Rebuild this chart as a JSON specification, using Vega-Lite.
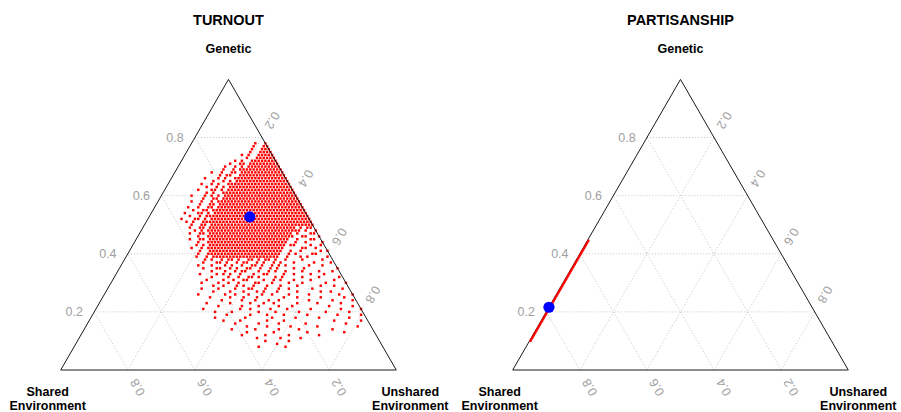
{
"$schema":"https://vega.github.io/schema/vega-lite/v6.json",
"padding":0,"spacing":0,"background":"white",
"config":{"view":{"stroke":null},"text":{"font":"Liberation Sans"}},
"datasets":{
"grid":[{"g1":20,"s1":80,"g2":20,"s2":0},{"g1":40,"s1":60,"g2":40,"s2":0},{"g1":60,"s1":40,"g2":60,"s2":0},{"g1":80,"s1":20,"g2":80,"s2":0},
{"g1":0,"s1":20,"g2":80,"s2":20},{"g1":0,"s1":40,"g2":60,"s2":40},{"g1":0,"s1":60,"g2":40,"s2":60},{"g1":0,"s1":80,"g2":20,"s2":80},
{"g1":0,"s1":80,"g2":80,"s2":0},{"g1":0,"s1":60,"g2":60,"s2":0},{"g1":0,"s1":40,"g2":40,"s2":0},{"g1":0,"s1":20,"g2":20,"s2":0}],
"edges":[{"g1":0,"s1":100,"g2":100,"s2":0},{"g1":100,"s1":0,"g2":0,"s2":0},{"g1":0,"s1":100,"g2":0,"s2":0}],
"ticks":[{"k":"L","g":20,"s":80,"t":"0.2"},{"k":"L","g":40,"s":60,"t":"0.4"},{"k":"L","g":60,"s":40,"t":"0.6"},{"k":"L","g":80,"s":20,"t":"0.8"},
{"k":"B","g":0,"s":20,"t":"0.2"},{"k":"B","g":0,"s":40,"t":"0.4"},{"k":"B","g":0,"s":60,"t":"0.6"},{"k":"B","g":0,"s":80,"t":"0.8"},
{"k":"R","g":80,"s":0,"t":"0.2"},{"k":"R","g":60,"s":0,"t":"0.4"},{"k":"R","g":40,"s":0,"t":"0.6"},{"k":"R","g":20,"s":0,"t":"0.8"}],
"vlabels":[{"k":"S","g":0,"s":100,"t":"Shared\nEnvironment"},{"k":"U","g":0,"s":0,"t":"Unshared\nEnvironment"}],
"apex":[{"g":100,"s":0,"t":"Genetic"}],
"turnout":[
{"g":78,"s":0},{"g":78,"s":3},
{"g":77,"s":0},{"g":77,"s":1},{"g":77,"s":4},
{"g":76,"s":0},{"g":76,"s":1},{"g":76,"s":2},{"g":76,"s":5},
{"g":75,"s":0},{"g":75,"s":1},{"g":75,"s":2},{"g":75,"s":3},{"g":75,"s":6},
{"g":74,"s":0},{"g":74,"s":1},{"g":74,"s":2},{"g":74,"s":3},{"g":74,"s":4},{"g":74,"s":7},{"g":74,"s":9},
{"g":73,"s":0},{"g":73,"s":1},{"g":73,"s":2},{"g":73,"s":3},{"g":73,"s":4},{"g":73,"s":5},{"g":73,"s":8},
{"g":72,"s":0},{"g":72,"s":1},{"g":72,"s":2},{"g":72,"s":3},{"g":72,"s":4},{"g":72,"s":5},{"g":72,"s":6},{"g":72,"s":7},{"g":72,"s":10},{"g":72,"s":12},
{"g":71,"s":0},{"g":71,"s":1},{"g":71,"s":2},{"g":71,"s":3},{"g":71,"s":4},{"g":71,"s":5},{"g":71,"s":6},{"g":71,"s":7},{"g":71,"s":8},{"g":71,"s":10},{"g":71,"s":11},{"g":71,"s":14},
{"g":70,"s":0},{"g":70,"s":1},{"g":70,"s":2},{"g":70,"s":3},{"g":70,"s":4},{"g":70,"s":5},{"g":70,"s":6},{"g":70,"s":7},{"g":70,"s":8},{"g":70,"s":9},{"g":70,"s":11},{"g":70,"s":13},{"g":70,"s":16},
{"g":69,"s":0},{"g":69,"s":1},{"g":69,"s":2},{"g":69,"s":3},{"g":69,"s":4},{"g":69,"s":5},{"g":69,"s":6},{"g":69,"s":7},{"g":69,"s":8},{"g":69,"s":9},{"g":69,"s":10},{"g":69,"s":11},{"g":69,"s":12},{"g":69,"s":14},{"g":69,"s":17},
{"g":68,"s":0},{"g":68,"s":1},{"g":68,"s":2},{"g":68,"s":3},{"g":68,"s":4},{"g":68,"s":5},{"g":68,"s":6},{"g":68,"s":7},{"g":68,"s":8},{"g":68,"s":9},{"g":68,"s":10},{"g":68,"s":11},{"g":68,"s":12},{"g":68,"s":14},{"g":68,"s":15},{"g":68,"s":18},{"g":68,"s":21},
{"g":67,"s":0},{"g":67,"s":1},{"g":67,"s":2},{"g":67,"s":3},{"g":67,"s":4},{"g":67,"s":5},{"g":67,"s":6},{"g":67,"s":7},{"g":67,"s":8},{"g":67,"s":9},{"g":67,"s":10},{"g":67,"s":11},{"g":67,"s":12},{"g":67,"s":13},{"g":67,"s":16},{"g":67,"s":17},{"g":67,"s":19},
{"g":66,"s":0},{"g":66,"s":1},{"g":66,"s":2},{"g":66,"s":3},{"g":66,"s":4},{"g":66,"s":5},{"g":66,"s":6},{"g":66,"s":7},{"g":66,"s":8},{"g":66,"s":9},{"g":66,"s":10},{"g":66,"s":11},{"g":66,"s":12},{"g":66,"s":13},{"g":66,"s":14},{"g":66,"s":15},{"g":66,"s":18},{"g":66,"s":20},{"g":66,"s":24},
{"g":65,"s":0},{"g":65,"s":1},{"g":65,"s":2},{"g":65,"s":3},{"g":65,"s":4},{"g":65,"s":5},{"g":65,"s":6},{"g":65,"s":7},{"g":65,"s":8},{"g":65,"s":9},{"g":65,"s":10},{"g":65,"s":11},{"g":65,"s":12},{"g":65,"s":13},{"g":65,"s":14},{"g":65,"s":15},{"g":65,"s":17},{"g":65,"s":19},{"g":65,"s":22},
{"g":64,"s":0},{"g":64,"s":1},{"g":64,"s":2},{"g":64,"s":3},{"g":64,"s":4},{"g":64,"s":5},{"g":64,"s":6},{"g":64,"s":7},{"g":64,"s":8},{"g":64,"s":9},{"g":64,"s":10},{"g":64,"s":11},{"g":64,"s":12},{"g":64,"s":13},{"g":64,"s":14},{"g":64,"s":15},{"g":64,"s":16},{"g":64,"s":17},{"g":64,"s":18},{"g":64,"s":21},{"g":64,"s":23},{"g":64,"s":26},
{"g":63,"s":0},{"g":63,"s":1},{"g":63,"s":2},{"g":63,"s":3},{"g":63,"s":4},{"g":63,"s":5},{"g":63,"s":6},{"g":63,"s":7},{"g":63,"s":8},{"g":63,"s":9},{"g":63,"s":10},{"g":63,"s":11},{"g":63,"s":12},{"g":63,"s":13},{"g":63,"s":14},{"g":63,"s":15},{"g":63,"s":16},{"g":63,"s":17},{"g":63,"s":18},{"g":63,"s":20},{"g":63,"s":22},{"g":63,"s":25},
{"g":62,"s":0},{"g":62,"s":1},{"g":62,"s":2},{"g":62,"s":3},{"g":62,"s":4},{"g":62,"s":5},{"g":62,"s":6},{"g":62,"s":7},{"g":62,"s":8},{"g":62,"s":9},{"g":62,"s":10},{"g":62,"s":11},{"g":62,"s":12},{"g":62,"s":13},{"g":62,"s":14},{"g":62,"s":15},{"g":62,"s":16},{"g":62,"s":17},{"g":62,"s":18},{"g":62,"s":19},{"g":62,"s":21},{"g":62,"s":23},{"g":62,"s":24},{"g":62,"s":28},
{"g":61,"s":0},{"g":61,"s":1},{"g":61,"s":2},{"g":61,"s":3},{"g":61,"s":4},{"g":61,"s":5},{"g":61,"s":6},{"g":61,"s":7},{"g":61,"s":8},{"g":61,"s":9},{"g":61,"s":10},{"g":61,"s":11},{"g":61,"s":12},{"g":61,"s":13},{"g":61,"s":14},{"g":61,"s":15},{"g":61,"s":16},{"g":61,"s":17},{"g":61,"s":18},{"g":61,"s":19},{"g":61,"s":20},{"g":61,"s":21},{"g":61,"s":24},{"g":61,"s":26},
{"g":60,"s":0},{"g":60,"s":1},{"g":60,"s":2},{"g":60,"s":3},{"g":60,"s":4},{"g":60,"s":5},{"g":60,"s":6},{"g":60,"s":7},{"g":60,"s":8},{"g":60,"s":9},{"g":60,"s":10},{"g":60,"s":11},{"g":60,"s":12},{"g":60,"s":13},{"g":60,"s":14},{"g":60,"s":15},{"g":60,"s":16},{"g":60,"s":17},{"g":60,"s":18},{"g":60,"s":19},{"g":60,"s":20},{"g":60,"s":21},{"g":60,"s":23},{"g":60,"s":25},{"g":60,"s":27},{"g":60,"s":31},
{"g":59,"s":0},{"g":59,"s":1},{"g":59,"s":2},{"g":59,"s":3},{"g":59,"s":4},{"g":59,"s":5},{"g":59,"s":6},{"g":59,"s":7},{"g":59,"s":8},{"g":59,"s":9},{"g":59,"s":10},{"g":59,"s":11},{"g":59,"s":12},{"g":59,"s":13},{"g":59,"s":14},{"g":59,"s":15},{"g":59,"s":16},{"g":59,"s":17},{"g":59,"s":18},{"g":59,"s":19},{"g":59,"s":20},{"g":59,"s":21},{"g":59,"s":22},{"g":59,"s":24},{"g":59,"s":25},{"g":59,"s":28},
{"g":58,"s":0},{"g":58,"s":1},{"g":58,"s":2},{"g":58,"s":3},{"g":58,"s":4},{"g":58,"s":5},{"g":58,"s":6},{"g":58,"s":7},{"g":58,"s":8},{"g":58,"s":9},{"g":58,"s":10},{"g":58,"s":11},{"g":58,"s":12},{"g":58,"s":13},{"g":58,"s":14},{"g":58,"s":15},{"g":58,"s":16},{"g":58,"s":17},{"g":58,"s":18},{"g":58,"s":19},{"g":58,"s":20},{"g":58,"s":21},{"g":58,"s":22},{"g":58,"s":23},{"g":58,"s":24},{"g":58,"s":26},{"g":58,"s":29},{"g":58,"s":32},
{"g":57,"s":0},{"g":57,"s":1},{"g":57,"s":2},{"g":57,"s":3},{"g":57,"s":4},{"g":57,"s":5},{"g":57,"s":6},{"g":57,"s":7},{"g":57,"s":8},{"g":57,"s":9},{"g":57,"s":10},{"g":57,"s":11},{"g":57,"s":12},{"g":57,"s":13},{"g":57,"s":14},{"g":57,"s":15},{"g":57,"s":16},{"g":57,"s":17},{"g":57,"s":18},{"g":57,"s":19},{"g":57,"s":20},{"g":57,"s":21},{"g":57,"s":22},{"g":57,"s":23},{"g":57,"s":24},{"g":57,"s":26},{"g":57,"s":27},{"g":57,"s":30},
{"g":56,"s":0},{"g":56,"s":1},{"g":56,"s":2},{"g":56,"s":3},{"g":56,"s":4},{"g":56,"s":5},{"g":56,"s":6},{"g":56,"s":7},{"g":56,"s":8},{"g":56,"s":9},{"g":56,"s":10},{"g":56,"s":11},{"g":56,"s":12},{"g":56,"s":13},{"g":56,"s":14},{"g":56,"s":15},{"g":56,"s":16},{"g":56,"s":17},{"g":56,"s":18},{"g":56,"s":19},{"g":56,"s":20},{"g":56,"s":21},{"g":56,"s":22},{"g":56,"s":23},{"g":56,"s":24},{"g":56,"s":25},{"g":56,"s":27},{"g":56,"s":28},{"g":56,"s":31},{"g":56,"s":34},
{"g":55,"s":0},{"g":55,"s":1},{"g":55,"s":2},{"g":55,"s":3},{"g":55,"s":4},{"g":55,"s":5},{"g":55,"s":6},{"g":55,"s":7},{"g":55,"s":8},{"g":55,"s":9},{"g":55,"s":10},{"g":55,"s":11},{"g":55,"s":12},{"g":55,"s":13},{"g":55,"s":14},{"g":55,"s":15},{"g":55,"s":16},{"g":55,"s":17},{"g":55,"s":18},{"g":55,"s":19},{"g":55,"s":20},{"g":55,"s":21},{"g":55,"s":22},{"g":55,"s":23},{"g":55,"s":24},{"g":55,"s":25},{"g":55,"s":26},{"g":55,"s":27},{"g":55,"s":29},{"g":55,"s":30},{"g":55,"s":33},
{"g":54,"s":0},{"g":54,"s":1},{"g":54,"s":2},{"g":54,"s":3},{"g":54,"s":4},{"g":54,"s":5},{"g":54,"s":6},{"g":54,"s":7},{"g":54,"s":8},{"g":54,"s":9},{"g":54,"s":10},{"g":54,"s":11},{"g":54,"s":12},{"g":54,"s":13},{"g":54,"s":14},{"g":54,"s":15},{"g":54,"s":16},{"g":54,"s":17},{"g":54,"s":18},{"g":54,"s":19},{"g":54,"s":20},{"g":54,"s":21},{"g":54,"s":22},{"g":54,"s":23},{"g":54,"s":24},{"g":54,"s":25},{"g":54,"s":26},{"g":54,"s":27},{"g":54,"s":29},{"g":54,"s":31},{"g":54,"s":32},{"g":54,"s":36},
{"g":53,"s":0},{"g":53,"s":1},{"g":53,"s":2},{"g":53,"s":3},{"g":53,"s":4},{"g":53,"s":5},{"g":53,"s":6},{"g":53,"s":7},{"g":53,"s":8},{"g":53,"s":9},{"g":53,"s":10},{"g":53,"s":11},{"g":53,"s":12},{"g":53,"s":13},{"g":53,"s":14},{"g":53,"s":15},{"g":53,"s":16},{"g":53,"s":17},{"g":53,"s":18},{"g":53,"s":19},{"g":53,"s":20},{"g":53,"s":21},{"g":53,"s":22},{"g":53,"s":23},{"g":53,"s":24},{"g":53,"s":25},{"g":53,"s":26},{"g":53,"s":27},{"g":53,"s":28},{"g":53,"s":29},{"g":53,"s":30},{"g":53,"s":32},{"g":53,"s":35},
{"g":52,"s":0},{"g":52,"s":1},{"g":52,"s":2},{"g":52,"s":3},{"g":52,"s":4},{"g":52,"s":5},{"g":52,"s":6},{"g":52,"s":7},{"g":52,"s":8},{"g":52,"s":9},{"g":52,"s":10},{"g":52,"s":11},{"g":52,"s":12},{"g":52,"s":13},{"g":52,"s":14},{"g":52,"s":15},{"g":52,"s":16},{"g":52,"s":17},{"g":52,"s":18},{"g":52,"s":19},{"g":52,"s":20},{"g":52,"s":21},{"g":52,"s":22},{"g":52,"s":23},{"g":52,"s":24},{"g":52,"s":25},{"g":52,"s":26},{"g":52,"s":27},{"g":52,"s":28},{"g":52,"s":29},{"g":52,"s":31},{"g":52,"s":33},{"g":52,"s":34},{"g":52,"s":38},
{"g":51,"s":0},{"g":51,"s":1},{"g":51,"s":2},{"g":51,"s":3},{"g":51,"s":4},{"g":51,"s":5},{"g":51,"s":6},{"g":51,"s":7},{"g":51,"s":8},{"g":51,"s":9},{"g":51,"s":10},{"g":51,"s":11},{"g":51,"s":12},{"g":51,"s":13},{"g":51,"s":14},{"g":51,"s":15},{"g":51,"s":16},{"g":51,"s":17},{"g":51,"s":18},{"g":51,"s":19},{"g":51,"s":20},{"g":51,"s":21},{"g":51,"s":22},{"g":51,"s":23},{"g":51,"s":24},{"g":51,"s":25},{"g":51,"s":26},{"g":51,"s":27},{"g":51,"s":28},{"g":51,"s":29},{"g":51,"s":30},{"g":51,"s":31},{"g":51,"s":32},{"g":51,"s":35},{"g":51,"s":37},
{"g":50,"s":0},{"g":50,"s":1},{"g":50,"s":2},{"g":50,"s":3},{"g":50,"s":4},{"g":50,"s":5},{"g":50,"s":6},{"g":50,"s":7},{"g":50,"s":8},{"g":50,"s":9},{"g":50,"s":10},{"g":50,"s":11},{"g":50,"s":12},{"g":50,"s":13},{"g":50,"s":14},{"g":50,"s":15},{"g":50,"s":16},{"g":50,"s":17},{"g":50,"s":18},{"g":50,"s":19},{"g":50,"s":20},{"g":50,"s":21},{"g":50,"s":22},{"g":50,"s":23},{"g":50,"s":24},{"g":50,"s":25},{"g":50,"s":26},{"g":50,"s":27},{"g":50,"s":28},{"g":50,"s":29},{"g":50,"s":30},{"g":50,"s":32},{"g":50,"s":33},{"g":50,"s":36},
{"g":49,"s":1},{"g":49,"s":2},{"g":49,"s":4},{"g":49,"s":6},{"g":49,"s":7},{"g":49,"s":8},{"g":49,"s":9},{"g":49,"s":10},{"g":49,"s":11},{"g":49,"s":12},{"g":49,"s":13},{"g":49,"s":14},{"g":49,"s":15},{"g":49,"s":16},{"g":49,"s":17},{"g":49,"s":18},{"g":49,"s":19},{"g":49,"s":20},{"g":49,"s":21},{"g":49,"s":22},{"g":49,"s":23},{"g":49,"s":24},{"g":49,"s":25},{"g":49,"s":26},{"g":49,"s":27},{"g":49,"s":28},{"g":49,"s":29},{"g":49,"s":30},{"g":49,"s":31},{"g":49,"s":33},{"g":49,"s":34},{"g":49,"s":37},
{"g":48,"s":0},{"g":48,"s":3},{"g":48,"s":5},{"g":48,"s":6},{"g":48,"s":7},{"g":48,"s":8},{"g":48,"s":9},{"g":48,"s":10},{"g":48,"s":11},{"g":48,"s":12},{"g":48,"s":13},{"g":48,"s":14},{"g":48,"s":15},{"g":48,"s":16},{"g":48,"s":17},{"g":48,"s":18},{"g":48,"s":19},{"g":48,"s":20},{"g":48,"s":21},{"g":48,"s":22},{"g":48,"s":23},{"g":48,"s":24},{"g":48,"s":25},{"g":48,"s":26},{"g":48,"s":27},{"g":48,"s":28},{"g":48,"s":29},{"g":48,"s":30},{"g":48,"s":31},{"g":48,"s":32},{"g":48,"s":34},{"g":48,"s":36},
{"g":47,"s":1},{"g":47,"s":2},{"g":47,"s":6},{"g":47,"s":8},{"g":47,"s":9},{"g":47,"s":10},{"g":47,"s":11},{"g":47,"s":12},{"g":47,"s":13},{"g":47,"s":14},{"g":47,"s":15},{"g":47,"s":16},{"g":47,"s":17},{"g":47,"s":18},{"g":47,"s":19},{"g":47,"s":20},{"g":47,"s":21},{"g":47,"s":22},{"g":47,"s":23},{"g":47,"s":24},{"g":47,"s":25},{"g":47,"s":26},{"g":47,"s":27},{"g":47,"s":28},{"g":47,"s":29},{"g":47,"s":30},{"g":47,"s":31},{"g":47,"s":32},{"g":47,"s":34},{"g":47,"s":35},{"g":47,"s":38},
{"g":46,"s":0},{"g":46,"s":4},{"g":46,"s":5},{"g":46,"s":8},{"g":46,"s":9},{"g":46,"s":10},{"g":46,"s":11},{"g":46,"s":12},{"g":46,"s":13},{"g":46,"s":14},{"g":46,"s":15},{"g":46,"s":16},{"g":46,"s":17},{"g":46,"s":18},{"g":46,"s":19},{"g":46,"s":20},{"g":46,"s":21},{"g":46,"s":22},{"g":46,"s":23},{"g":46,"s":24},{"g":46,"s":25},{"g":46,"s":26},{"g":46,"s":27},{"g":46,"s":28},{"g":46,"s":29},{"g":46,"s":30},{"g":46,"s":31},{"g":46,"s":32},{"g":46,"s":33},{"g":46,"s":36},
{"g":45,"s":2},{"g":45,"s":3},{"g":45,"s":7},{"g":45,"s":10},{"g":45,"s":11},{"g":45,"s":12},{"g":45,"s":13},{"g":45,"s":14},{"g":45,"s":15},{"g":45,"s":16},{"g":45,"s":17},{"g":45,"s":18},{"g":45,"s":19},{"g":45,"s":20},{"g":45,"s":21},{"g":45,"s":22},{"g":45,"s":23},{"g":45,"s":24},{"g":45,"s":25},{"g":45,"s":26},{"g":45,"s":27},{"g":45,"s":28},{"g":45,"s":29},{"g":45,"s":30},{"g":45,"s":31},{"g":45,"s":32},{"g":45,"s":33},{"g":45,"s":35},{"g":45,"s":36},{"g":45,"s":39},
{"g":44,"s":0},{"g":44,"s":5},{"g":44,"s":8},{"g":44,"s":11},{"g":44,"s":12},{"g":44,"s":13},{"g":44,"s":14},{"g":44,"s":15},{"g":44,"s":16},{"g":44,"s":17},{"g":44,"s":18},{"g":44,"s":19},{"g":44,"s":20},{"g":44,"s":21},{"g":44,"s":22},{"g":44,"s":23},{"g":44,"s":24},{"g":44,"s":25},{"g":44,"s":26},{"g":44,"s":27},{"g":44,"s":28},{"g":44,"s":29},{"g":44,"s":30},{"g":44,"s":31},{"g":44,"s":32},{"g":44,"s":33},{"g":44,"s":34},{"g":44,"s":37},
{"g":43,"s":1},{"g":43,"s":4},{"g":43,"s":9},{"g":43,"s":10},{"g":43,"s":12},{"g":43,"s":13},{"g":43,"s":14},{"g":43,"s":15},{"g":43,"s":16},{"g":43,"s":17},{"g":43,"s":18},{"g":43,"s":19},{"g":43,"s":20},{"g":43,"s":21},{"g":43,"s":22},{"g":43,"s":23},{"g":43,"s":24},{"g":43,"s":25},{"g":43,"s":26},{"g":43,"s":27},{"g":43,"s":28},{"g":43,"s":29},{"g":43,"s":30},{"g":43,"s":31},{"g":43,"s":32},{"g":43,"s":33},{"g":43,"s":34},{"g":43,"s":36},{"g":43,"s":38},
{"g":42,"s":3},{"g":42,"s":6},{"g":42,"s":7},{"g":42,"s":13},{"g":42,"s":14},{"g":42,"s":15},{"g":42,"s":16},{"g":42,"s":17},{"g":42,"s":18},{"g":42,"s":19},{"g":42,"s":20},{"g":42,"s":21},{"g":42,"s":22},{"g":42,"s":23},{"g":42,"s":24},{"g":42,"s":25},{"g":42,"s":26},{"g":42,"s":27},{"g":42,"s":28},{"g":42,"s":29},{"g":42,"s":30},{"g":42,"s":31},{"g":42,"s":32},{"g":42,"s":33},{"g":42,"s":34},{"g":42,"s":35},{"g":42,"s":37},{"g":42,"s":40},
{"g":41,"s":0},{"g":41,"s":2},{"g":41,"s":8},{"g":41,"s":11},{"g":41,"s":14},{"g":41,"s":15},{"g":41,"s":16},{"g":41,"s":17},{"g":41,"s":18},{"g":41,"s":19},{"g":41,"s":20},{"g":41,"s":21},{"g":41,"s":22},{"g":41,"s":23},{"g":41,"s":24},{"g":41,"s":25},{"g":41,"s":26},{"g":41,"s":27},{"g":41,"s":28},{"g":41,"s":29},{"g":41,"s":30},{"g":41,"s":31},{"g":41,"s":32},{"g":41,"s":33},{"g":41,"s":34},{"g":41,"s":35},{"g":41,"s":38},
{"g":40,"s":4},{"g":40,"s":5},{"g":40,"s":10},{"g":40,"s":12},{"g":40,"s":15},{"g":40,"s":16},{"g":40,"s":17},{"g":40,"s":18},{"g":40,"s":19},{"g":40,"s":20},{"g":40,"s":21},{"g":40,"s":22},{"g":40,"s":23},{"g":40,"s":24},{"g":40,"s":25},{"g":40,"s":26},{"g":40,"s":27},{"g":40,"s":28},{"g":40,"s":29},{"g":40,"s":30},{"g":40,"s":31},{"g":40,"s":32},{"g":40,"s":33},{"g":40,"s":34},{"g":40,"s":35},{"g":40,"s":36},{"g":40,"s":39},
{"g":39,"s":1},{"g":39,"s":7},{"g":39,"s":9},{"g":39,"s":13},{"g":39,"s":16},{"g":39,"s":17},{"g":39,"s":18},{"g":39,"s":19},{"g":39,"s":20},{"g":39,"s":21},{"g":39,"s":22},{"g":39,"s":23},{"g":39,"s":24},{"g":39,"s":25},{"g":39,"s":26},{"g":39,"s":27},{"g":39,"s":28},{"g":39,"s":29},{"g":39,"s":30},{"g":39,"s":31},{"g":39,"s":32},{"g":39,"s":33},{"g":39,"s":34},{"g":39,"s":35},{"g":39,"s":37},{"g":39,"s":40},
{"g":38,"s":3},{"g":38,"s":9},{"g":38,"s":14},{"g":38,"s":17},{"g":38,"s":19},{"g":38,"s":20},{"g":38,"s":22},{"g":38,"s":24},{"g":38,"s":25},{"g":38,"s":28},{"g":38,"s":30},{"g":38,"s":31},{"g":38,"s":33},{"g":38,"s":36},{"g":38,"s":38},
{"g":37,"s":1},{"g":37,"s":6},{"g":37,"s":12},{"g":37,"s":16},{"g":37,"s":18},{"g":37,"s":21},{"g":37,"s":23},{"g":37,"s":26},{"g":37,"s":27},{"g":37,"s":29},{"g":37,"s":32},{"g":37,"s":34},{"g":37,"s":35},{"g":37,"s":39},
{"g":36,"s":4},{"g":36,"s":8},{"g":36,"s":15},{"g":36,"s":17},{"g":36,"s":19},{"g":36,"s":22},{"g":36,"s":24},{"g":36,"s":25},{"g":36,"s":28},{"g":36,"s":31},{"g":36,"s":33},{"g":36,"s":37},{"g":36,"s":41},
{"g":35,"s":0},{"g":35,"s":10},{"g":35,"s":13},{"g":35,"s":18},{"g":35,"s":20},{"g":35,"s":23},{"g":35,"s":26},{"g":35,"s":27},{"g":35,"s":30},{"g":35,"s":32},{"g":35,"s":35},{"g":35,"s":36},{"g":35,"s":40},
{"g":34,"s":2},{"g":34,"s":6},{"g":34,"s":11},{"g":34,"s":16},{"g":34,"s":19},{"g":34,"s":21},{"g":34,"s":24},{"g":34,"s":28},{"g":34,"s":29},{"g":34,"s":31},{"g":34,"s":34},{"g":34,"s":38},
{"g":33,"s":5},{"g":33,"s":9},{"g":33,"s":14},{"g":33,"s":17},{"g":33,"s":22},{"g":33,"s":23},{"g":33,"s":26},{"g":33,"s":30},{"g":33,"s":33},{"g":33,"s":35},{"g":33,"s":37},{"g":33,"s":42},
{"g":32,"s":1},{"g":32,"s":7},{"g":32,"s":12},{"g":32,"s":18},{"g":32,"s":20},{"g":32,"s":25},{"g":32,"s":27},{"g":32,"s":28},{"g":32,"s":31},{"g":32,"s":34},{"g":32,"s":39},
{"g":31,"s":3},{"g":31,"s":10},{"g":31,"s":15},{"g":31,"s":19},{"g":31,"s":21},{"g":31,"s":24},{"g":31,"s":29},{"g":31,"s":30},{"g":31,"s":33},{"g":31,"s":36},{"g":31,"s":41},
{"g":30,"s":0},{"g":30,"s":6},{"g":30,"s":13},{"g":30,"s":17},{"g":30,"s":22},{"g":30,"s":26},{"g":30,"s":27},{"g":30,"s":32},{"g":30,"s":35},{"g":30,"s":38},{"g":30,"s":43},
{"g":29,"s":4},{"g":29,"s":8},{"g":29,"s":15},{"g":29,"s":20},{"g":29,"s":24},{"g":29,"s":28},{"g":29,"s":31},{"g":29,"s":33},{"g":29,"s":37},{"g":29,"s":40},
{"g":28,"s":2},{"g":28,"s":11},{"g":28,"s":18},{"g":28,"s":21},{"g":28,"s":25},{"g":28,"s":29},{"g":28,"s":30},{"g":28,"s":34},{"g":28,"s":39},{"g":28,"s":44},
{"g":27,"s":6},{"g":27,"s":9},{"g":27,"s":16},{"g":27,"s":22},{"g":27,"s":26},{"g":27,"s":28},{"g":27,"s":32},{"g":27,"s":36},{"g":27,"s":41},
{"g":26,"s":0},{"g":26,"s":4},{"g":26,"s":13},{"g":26,"s":19},{"g":26,"s":24},{"g":26,"s":27},{"g":26,"s":31},{"g":26,"s":35},{"g":26,"s":38},{"g":26,"s":46},
{"g":25,"s":3},{"g":25,"s":10},{"g":25,"s":17},{"g":25,"s":21},{"g":25,"s":29},{"g":25,"s":33},{"g":25,"s":37},{"g":25,"s":43},
{"g":24,"s":1},{"g":24,"s":7},{"g":24,"s":14},{"g":24,"s":23},{"g":24,"s":26},{"g":24,"s":30},{"g":24,"s":34},{"g":24,"s":40},
{"g":23,"s":5},{"g":23,"s":12},{"g":23,"s":18},{"g":23,"s":25},{"g":23,"s":28},{"g":23,"s":32},{"g":23,"s":38},{"g":23,"s":45},
{"g":22,"s":2},{"g":22,"s":9},{"g":22,"s":20},{"g":22,"s":24},{"g":22,"s":30},{"g":22,"s":35},{"g":22,"s":42},
{"g":21,"s":0},{"g":21,"s":6},{"g":21,"s":15},{"g":21,"s":22},{"g":21,"s":27},{"g":21,"s":33},{"g":21,"s":36},{"g":21,"s":47},
{"g":20,"s":4},{"g":20,"s":11},{"g":20,"s":19},{"g":20,"s":26},{"g":20,"s":31},{"g":20,"s":39},{"g":20,"s":44},
{"g":19,"s":1},{"g":19,"s":8},{"g":19,"s":17},{"g":19,"s":24},{"g":19,"s":29},{"g":19,"s":34},{"g":19,"s":41},
{"g":18,"s":5},{"g":18,"s":14},{"g":18,"s":21},{"g":18,"s":28},{"g":18,"s":36},{"g":18,"s":45},
{"g":17,"s":2},{"g":17,"s":10},{"g":17,"s":25},{"g":17,"s":30},{"g":17,"s":38},{"g":17,"s":43},
{"g":16,"s":7},{"g":16,"s":19},{"g":16,"s":27},{"g":16,"s":33},{"g":16,"s":40},
{"g":15,"s":4},{"g":15,"s":16},{"g":15,"s":24},{"g":15,"s":31},{"g":15,"s":37},
{"g":14,"s":12},{"g":14,"s":22},{"g":14,"s":28},{"g":14,"s":35},{"g":14,"s":42},
{"g":13,"s":9},{"g":13,"s":20},{"g":13,"s":30},{"g":13,"s":38},
{"g":12,"s":17},{"g":12,"s":26},{"g":12,"s":33},{"g":12,"s":40},
{"g":11,"s":23},{"g":11,"s":29},{"g":11,"s":36},
{"g":10,"s":27},{"g":10,"s":34},
{"g":9,"s":31},
{"g":8,"s":29},{"g":8,"s":37}
],
"partisan":[
{"g":10,"s":89.7},{"g":10.5,"s":89.2},{"g":11,"s":88.7},{"g":11.5,"s":88.2},{"g":12,"s":87.7},{"g":12.5,"s":87.2},{"g":13,"s":86.7},{"g":13.5,"s":86.2},{"g":14,"s":85.7},{"g":14.5,"s":85.2},
{"g":15,"s":84.7},{"g":15.5,"s":84.2},{"g":16,"s":83.7},{"g":16.5,"s":83.2},{"g":17,"s":82.7},{"g":17.5,"s":82.2},{"g":18,"s":81.7},{"g":18.5,"s":81.2},{"g":19,"s":80.7},{"g":19.5,"s":80.2},
{"g":20,"s":79.7},{"g":20.5,"s":79.2},{"g":21,"s":78.7},{"g":21.5,"s":78.2},{"g":22,"s":77.7},{"g":22.5,"s":77.2},{"g":23,"s":76.7},{"g":23.5,"s":76.2},{"g":24,"s":75.7},{"g":24.5,"s":75.2},
{"g":25,"s":74.7},{"g":25.5,"s":74.2},{"g":26,"s":73.7},{"g":26.5,"s":73.2},{"g":27,"s":72.7},{"g":27.5,"s":72.2},{"g":28,"s":71.7},{"g":28.5,"s":71.2},{"g":29,"s":70.7},{"g":29.5,"s":70.2},
{"g":30,"s":69.7},{"g":30.5,"s":69.2},{"g":31,"s":68.7},{"g":31.5,"s":68.2},{"g":32,"s":67.7},{"g":32.5,"s":67.2},{"g":33,"s":66.7},{"g":33.5,"s":66.2},{"g":34,"s":65.7},{"g":34.5,"s":65.2},
{"g":35,"s":64.7},{"g":35.5,"s":64.2},{"g":36,"s":63.7},{"g":36.5,"s":63.2},{"g":37,"s":62.7},{"g":37.5,"s":62.2},{"g":38,"s":61.7},{"g":38.5,"s":61.2},{"g":39,"s":60.7},{"g":39.5,"s":60.2},
{"g":40,"s":59.7},{"g":40.5,"s":59.2},{"g":41,"s":58.7},{"g":41.5,"s":58.2},{"g":42,"s":57.7},{"g":42.5,"s":57.2},{"g":43,"s":56.7},{"g":43.5,"s":56.2},{"g":44,"s":55.7},{"g":44.5,"s":55.2}
]
},
"hconcat":[
{
"width":452,"height":412,
"encoding":{
"x":{"field":"x","type":"quantitative","scale":{"domain":[-0.1809,1.1661],"nice":false,"zero":false},"axis":null},
"y":{"field":"y","type":"quantitative","scale":{"domain":[-0.1445,1.2732],"nice":false,"zero":false},"axis":null}},
"layer":[
{"data":{"name":"grid"},"transform":[{"calculate":"1-datum.s1/100-datum.g1/200","as":"x"},{"calculate":"datum.g1/100","as":"y"},{"calculate":"1-datum.s2/100-datum.g2/200","as":"x2"},{"calculate":"datum.g2/100","as":"y2"}],
 "mark":{"type":"rule","stroke":"#c4c4c4","strokeWidth":1,"strokeDash":[1,2]},"encoding":{"x2":{"field":"x2"},"y2":{"field":"y2"}}},
{"data":{"name":"turnout"},"transform":[{"calculate":"1-datum.s/100-datum.g/200","as":"x"},{"calculate":"datum.g/100","as":"y"}],
 "mark":{"type":"square","size":6,"color":"#ff0000","filled":true,"opacity":1,"strokeWidth":0}},
{"data":{"name":"edges"},"transform":[{"calculate":"1-datum.s1/100-datum.g1/200","as":"x"},{"calculate":"datum.g1/100","as":"y"},{"calculate":"1-datum.s2/100-datum.g2/200","as":"x2"},{"calculate":"datum.g2/100","as":"y2"}],
 "mark":{"type":"rule","stroke":"#1a1a1a","strokeWidth":1},"encoding":{"x2":{"field":"x2"},"y2":{"field":"y2"}}},
{"data":{"values":[{"g":52.7,"s":17.3}]},"transform":[{"calculate":"1-datum.s/100-datum.g/200","as":"x"},{"calculate":"datum.g/100","as":"y"}],
 "mark":{"type":"circle","size":125,"color":"#0000ff","opacity":1}},
{"data":{"name":"ticks"},"transform":[{"filter":"datum.k=='L'"},{"calculate":"1-datum.s/100-datum.g/200","as":"x"},{"calculate":"datum.g/100","as":"y"}],
 "mark":{"type":"text","fontSize":12.5,"color":"#a0a0a0","align":"center","baseline":"middle","dx":-20,"angle":0},"encoding":{"text":{"field":"t"}}},
{"data":{"name":"ticks"},"transform":[{"filter":"datum.k=='B'"},{"calculate":"1-datum.s/100-datum.g/200","as":"x"},{"calculate":"datum.g/100","as":"y"}],
 "mark":{"type":"text","fontSize":12.5,"color":"#a0a0a0","align":"center","baseline":"middle","dx":-20,"angle":240},"encoding":{"text":{"field":"t"}}},
{"data":{"name":"ticks"},"transform":[{"filter":"datum.k=='R'"},{"calculate":"1-datum.s/100-datum.g/200","as":"x"},{"calculate":"datum.g/100","as":"y"}],
 "mark":{"type":"text","fontSize":12.5,"color":"#a0a0a0","align":"center","baseline":"middle","dx":-20,"angle":120},"encoding":{"text":{"field":"t"}}},
{"data":{"values":[{"g":100,"s":0,"t":"TURNOUT"}]},"transform":[{"calculate":"1-datum.s/100-datum.g/200","as":"x"},{"calculate":"datum.g/100","as":"y"}],
 "mark":{"type":"text","fontSize":14.5,"fontWeight":"bold","color":"#000000","align":"center","baseline":"middle","dy":-58},"encoding":{"text":{"field":"t"}}},
{"data":{"name":"apex"},"transform":[{"calculate":"1-datum.s/100-datum.g/200","as":"x"},{"calculate":"datum.g/100","as":"y"}],
 "mark":{"type":"text","fontSize":12.5,"fontWeight":"bold","color":"#000000","align":"center","baseline":"middle","dy":-30},"encoding":{"text":{"field":"t"}}},
{"data":{"name":"vlabels"},"transform":[{"filter":"datum.k=='S'"},{"calculate":"1-datum.s/100-datum.g/200","as":"x"},{"calculate":"datum.g/100","as":"y"}],
 "mark":{"type":"text","fontSize":12.5,"fontWeight":"bold","color":"#000000","align":"center","baseline":"top","dx":-13,"dy":16,"lineBreak":"\n","lineHeight":14},"encoding":{"text":{"field":"t"}}},
{"data":{"name":"vlabels"},"transform":[{"filter":"datum.k=='U'"},{"calculate":"1-datum.s/100-datum.g/200","as":"x"},{"calculate":"datum.g/100","as":"y"}],
 "mark":{"type":"text","fontSize":12.5,"fontWeight":"bold","color":"#000000","align":"center","baseline":"top","dx":14,"dy":16,"lineBreak":"\n","lineHeight":14},"encoding":{"text":{"field":"t"}}}
]},
{
"width":449,"height":412,
"encoding":{
"x":{"field":"x","type":"quantitative","scale":{"domain":[-0.1809,1.1571],"nice":false,"zero":false},"axis":null},
"y":{"field":"y","type":"quantitative","scale":{"domain":[-0.1445,1.2732],"nice":false,"zero":false},"axis":null}},
"layer":[
{"data":{"name":"grid"},"transform":[{"calculate":"1-datum.s1/100-datum.g1/200","as":"x"},{"calculate":"datum.g1/100","as":"y"},{"calculate":"1-datum.s2/100-datum.g2/200","as":"x2"},{"calculate":"datum.g2/100","as":"y2"}],
 "mark":{"type":"rule","stroke":"#c4c4c4","strokeWidth":1,"strokeDash":[1,2]},"encoding":{"x2":{"field":"x2"},"y2":{"field":"y2"}}},
{"data":{"name":"edges"},"transform":[{"calculate":"1-datum.s1/100-datum.g1/200","as":"x"},{"calculate":"datum.g1/100","as":"y"},{"calculate":"1-datum.s2/100-datum.g2/200","as":"x2"},{"calculate":"datum.g2/100","as":"y2"}],
 "mark":{"type":"rule","stroke":"#1a1a1a","strokeWidth":1},"encoding":{"x2":{"field":"x2"},"y2":{"field":"y2"}}},
{"data":{"name":"partisan"},"transform":[{"calculate":"1-datum.s/100-datum.g/200","as":"x"},{"calculate":"datum.g/100","as":"y"}],
 "mark":{"type":"square","size":5,"color":"#ff0000","filled":true,"opacity":1,"strokeWidth":0}},
{"data":{"values":[{"g":21.6,"s":78.4}]},"transform":[{"calculate":"1-datum.s/100-datum.g/200","as":"x"},{"calculate":"datum.g/100","as":"y"}],
 "mark":{"type":"circle","size":125,"color":"#0000ff","opacity":1}},
{"data":{"name":"ticks"},"transform":[{"filter":"datum.k=='L'"},{"calculate":"1-datum.s/100-datum.g/200","as":"x"},{"calculate":"datum.g/100","as":"y"}],
 "mark":{"type":"text","fontSize":12.5,"color":"#a0a0a0","align":"center","baseline":"middle","dx":-20,"angle":0},"encoding":{"text":{"field":"t"}}},
{"data":{"name":"ticks"},"transform":[{"filter":"datum.k=='B'"},{"calculate":"1-datum.s/100-datum.g/200","as":"x"},{"calculate":"datum.g/100","as":"y"}],
 "mark":{"type":"text","fontSize":12.5,"color":"#a0a0a0","align":"center","baseline":"middle","dx":-20,"angle":240},"encoding":{"text":{"field":"t"}}},
{"data":{"name":"ticks"},"transform":[{"filter":"datum.k=='R'"},{"calculate":"1-datum.s/100-datum.g/200","as":"x"},{"calculate":"datum.g/100","as":"y"}],
 "mark":{"type":"text","fontSize":12.5,"color":"#a0a0a0","align":"center","baseline":"middle","dx":-20,"angle":120},"encoding":{"text":{"field":"t"}}},
{"data":{"values":[{"g":100,"s":0,"t":"PARTISANSHIP"}]},"transform":[{"calculate":"1-datum.s/100-datum.g/200","as":"x"},{"calculate":"datum.g/100","as":"y"}],
 "mark":{"type":"text","fontSize":14.5,"fontWeight":"bold","color":"#000000","align":"center","baseline":"middle","dy":-58},"encoding":{"text":{"field":"t"}}},
{"data":{"name":"apex"},"transform":[{"calculate":"1-datum.s/100-datum.g/200","as":"x"},{"calculate":"datum.g/100","as":"y"}],
 "mark":{"type":"text","fontSize":12.5,"fontWeight":"bold","color":"#000000","align":"center","baseline":"middle","dy":-30},"encoding":{"text":{"field":"t"}}},
{"data":{"name":"vlabels"},"transform":[{"filter":"datum.k=='S'"},{"calculate":"1-datum.s/100-datum.g/200","as":"x"},{"calculate":"datum.g/100","as":"y"}],
 "mark":{"type":"text","fontSize":12.5,"fontWeight":"bold","color":"#000000","align":"center","baseline":"top","dx":-13,"dy":16,"lineBreak":"\n","lineHeight":14},"encoding":{"text":{"field":"t"}}},
{"data":{"name":"vlabels"},"transform":[{"filter":"datum.k=='U'"},{"calculate":"1-datum.s/100-datum.g/200","as":"x"},{"calculate":"datum.g/100","as":"y"}],
 "mark":{"type":"text","fontSize":12.5,"fontWeight":"bold","color":"#000000","align":"center","baseline":"top","dx":10,"dy":16,"lineBreak":"\n","lineHeight":14},"encoding":{"text":{"field":"t"}}}
]}
]
}
